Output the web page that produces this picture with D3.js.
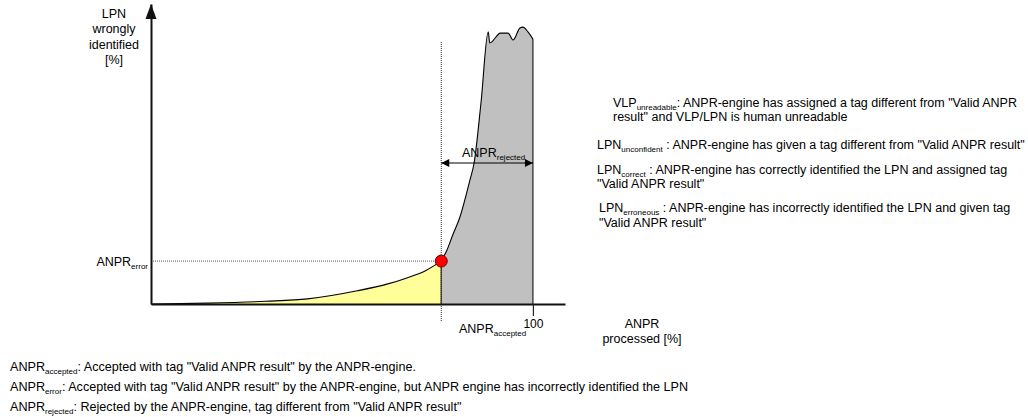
<!DOCTYPE html>
<html>
<head>
<meta charset="utf-8">
<script src="https://cdn.jsdelivr.net/npm/d3@7"></script>
<style>
  body { margin: 0; background: #fff; }
  svg text { font-family: Arial, "Liberation Sans", sans-serif; fill: #000; }
</style>
</head>
<body>
<div id="chart-container"></div>
<script>
// accepted part of the curve (yellow): x = ANPR processed [%], y = LPN wrongly identified [%]
const acceptedX = [0, 15, 30, 41, 54, 62, 67, 72, 76];
const acceptedY = [0, 0.3, 0.9, 1.7, 4.4, 6.7, 8.7, 11.2, 14.3];
// rejected part of the curve (grey)
const rejectedX = [76, 77.5, 79, 80.9, 83.5, 84.6, 86.4, 88.3, 88.7, 91.5, 93.5, 94.8, 96.6, 97.4, 98.7, 100];
const rejectedY = [14.3, 18, 23, 29, 41.3, 47, 67, 90.7, 87, 90.3, 90.3, 88, 92, 92.3, 90.7, 88.3];
const thresholdX = 76;   // ANPR accepted / rejected split
const errorY = 14.3;     // ANPR error level
const xTicks = [100];

// notes: [text, isSubscript]
const rightNotes = [
  [["VLP", 0], ["unreadable", 1], [":  ANPR-engine has assigned a tag different from \"Valid ANPR", 0]],
  [["result\" and VLP/LPN is human unreadable", 0]],
  [["LPN", 0], ["unconfident", 1], [" : ANPR-engine has given a tag different from \"Valid ANPR result\"", 0]],
  [["LPN", 0], ["correct", 1], [" : ANPR-engine has correctly identified the LPN and assigned tag", 0]],
  [["\"Valid ANPR result\"", 0]],
  [["LPN", 0], ["erroneous", 1], [" : ANPR-engine has incorrectly identified the LPN and given tag", 0]],
  [["\"Valid ANPR result\"", 0]]
];
const rightNoteX = [613, 613, 597, 597, 597, 599, 599];
const rightNoteY = [107, 121, 149, 174, 188, 212, 227];

const bottomNotes = [
  [["ANPR", 0], ["accepted", 1], [": Accepted with tag \"Valid ANPR result\" by the ANPR-engine.", 0]],
  [["ANPR", 0], ["error", 1], [": Accepted with tag \"Valid ANPR result\" by the ANPR-engine, but ANPR engine has incorrectly identified the LPN", 0]],
  [["ANPR", 0], ["rejected", 1], [": Rejected by the ANPR-engine, tag different from \"Valid ANPR result\"", 0]]
];
const bottomNoteY = [371, 391, 411];

const yLabel = ["LPN", "wrongly", "identified", "[%]"];
const xLabel = ["ANPR", "processed [%]"];

const width = 1028, height = 417;

const svg = d3.select("#chart-container")
  .append("svg")
  .attr("width", width)
  .attr("height", height);

// scales
var x = d3.scaleLinear().domain([0, 108.4]).range([151, 565]);
var y = d3.scaleLinear().domain([0, 100]).range([304, 4]);

const accepted = acceptedX.map((v, i) => ({ x: v, y: acceptedY[i] }));
const rejected = rejectedX.map((v, i) => ({ x: v, y: rejectedY[i] }));

const line = d3.line().x(d => x(d.x)).y(d => y(d.y)).curve(d3.curveMonotoneX);
const area = d3.area().x(d => x(d.x)).y0(y(0)).y1(d => y(d.y)).curve(d3.curveMonotoneX);

// rich text helper with subscripts
function rich(g, px, py, parts, size, anchor) {
  const t = g.append("text")
    .attr("x", px).attr("y", py)
    .attr("font-size", size)
    .attr("text-anchor", anchor || "start");
  let shifted = 0;
  parts.forEach(p => {
    const s = t.append("tspan").text(p[0]);
    if (p[1]) {
      s.attr("font-size", 8).attr("dy", 3 - shifted);
      shifted = 3;
    } else if (shifted) {
      s.attr("dy", -shifted);
      shifted = 0;
    }
  });
  return t;
}

// grey area (rejected)
svg.append("path")
  .datum(rejected)
  .attr("d", area)
  .attr("fill", "#c0c0c0");

// yellow area (accepted)
svg.append("path")
  .datum(accepted)
  .attr("d", area)
  .attr("fill", "#ffff99");

// curve outline
svg.append("path").datum(accepted).attr("d", line)
  .attr("fill", "none").attr("stroke", "#000").attr("stroke-width", 1.1);
svg.append("path").datum(rejected).attr("d", line)
  .attr("fill", "none").attr("stroke", "#000").attr("stroke-width", 1.1);

// split edge and right edge
svg.append("line")
  .attr("x1", x(thresholdX)).attr("x2", x(thresholdX))
  .attr("y1", y(errorY)).attr("y2", y(0))
  .attr("stroke", "#444").attr("stroke-width", 1.5);
svg.append("line")
  .attr("x1", x(100)).attr("x2", x(100))
  .attr("y1", y(rejectedY[rejectedY.length - 1])).attr("y2", y(0))
  .attr("stroke", "#222").attr("stroke-width", 1.2);

// dotted guides
svg.append("line")
  .attr("x1", x(thresholdX)).attr("x2", x(thresholdX))
  .attr("y1", 42).attr("y2", 322)
  .attr("stroke", "#333").attr("stroke-width", 1)
  .attr("stroke-dasharray", "1,1");
svg.append("line")
  .attr("x1", x(0)).attr("x2", x(thresholdX))
  .attr("y1", y(errorY)).attr("y2", y(errorY))
  .attr("stroke", "#555").attr("stroke-width", 1)
  .attr("stroke-dasharray", "1,1");

// x axis
const xAxis = svg.append("g")
  .attr("transform", "translate(0," + y(0) + ")")
  .call(d3.axisBottom(x).tickValues(xTicks).tickSize(12).tickSizeOuter(0));
xAxis.select(".domain").attr("stroke", "#111").attr("stroke-width", 2);
xAxis.selectAll(".tick line").attr("stroke", "#222").attr("stroke-width", 1.2);
xAxis.selectAll(".tick text")
  .style("font-family", "Arial, 'Liberation Sans', sans-serif")
  .style("font-size", "12px")
  .attr("fill", "#000");

// y axis
const yAxis = svg.append("g")
  .attr("transform", "translate(" + x(0) + ",0)")
  .call(d3.axisLeft(y).tickValues([]).tickSizeOuter(0));
yAxis.select(".domain").attr("stroke", "#111").attr("stroke-width", 2);
svg.append("path")
  .attr("d", "M" + (x(0) - 5.5) + "," + (y(100) + 15) + "L" + x(0) + "," + y(100) + "L" + (x(0) + 5.5) + "," + (y(100) + 15) + "Z")
  .attr("fill", "#111");

// ANPR error dot
svg.append("circle")
  .attr("cx", x(thresholdX)).attr("cy", y(errorY)).attr("r", 6)
  .attr("fill", "#ff0000").attr("stroke", "#700").attr("stroke-width", 1);

// double arrow for rejected
const defs = svg.append("defs");
defs.append("marker").attr("id", "arrEnd")
  .attr("viewBox", "0 0 10 10").attr("refX", 10).attr("refY", 5)
  .attr("markerWidth", 12).attr("markerHeight", 8).attr("markerUnits", "userSpaceOnUse")
  .attr("orient", "auto")
  .append("path").attr("d", "M0,0L10,5L0,10Z").attr("fill", "#000");
defs.append("marker").attr("id", "arrStart")
  .attr("viewBox", "0 0 10 10").attr("refX", 0).attr("refY", 5)
  .attr("markerWidth", 12).attr("markerHeight", 8).attr("markerUnits", "userSpaceOnUse")
  .attr("orient", "auto")
  .append("path").attr("d", "M10,0L0,5L10,10Z").attr("fill", "#000");
svg.append("line")
  .attr("x1", x(thresholdX)).attr("x2", x(100))
  .attr("y1", 163).attr("y2", 163)
  .attr("stroke", "#000").attr("stroke-width", 1.2)
  .attr("marker-start", "url(#arrStart)").attr("marker-end", "url(#arrEnd)");

// chart labels
rich(svg, 462, 157, [["ANPR", 0], ["rejected", 1]], 12.5);
rich(svg, 459, 333, [["ANPR", 0], ["accepted", 1]], 12.5);
rich(svg, 148, 266, [["ANPR", 0], ["error", 1]], 12.5, "end");

svg.selectAll(".ylab")
  .data(yLabel)
  .enter()
  .append("text")
  .attr("x", 114)
  .attr("y", (d, i) => 18 + i * 15.3)
  .attr("text-anchor", "middle")
  .attr("font-size", 12.5)
  .text(d => d);

svg.selectAll(".xlab")
  .data(xLabel)
  .enter()
  .append("text")
  .attr("x", 642)
  .attr("y", (d, i) => 328 + i * 15)
  .attr("text-anchor", "middle")
  .attr("font-size", 12.5)
  .text(d => d);

// notes
rightNotes.forEach((n, i) => rich(svg, rightNoteX[i], rightNoteY[i], n, 12.5));
bottomNotes.forEach((n, i) => rich(svg, 10, bottomNoteY[i], n, 12.6));
</script>
</body>
</html>
